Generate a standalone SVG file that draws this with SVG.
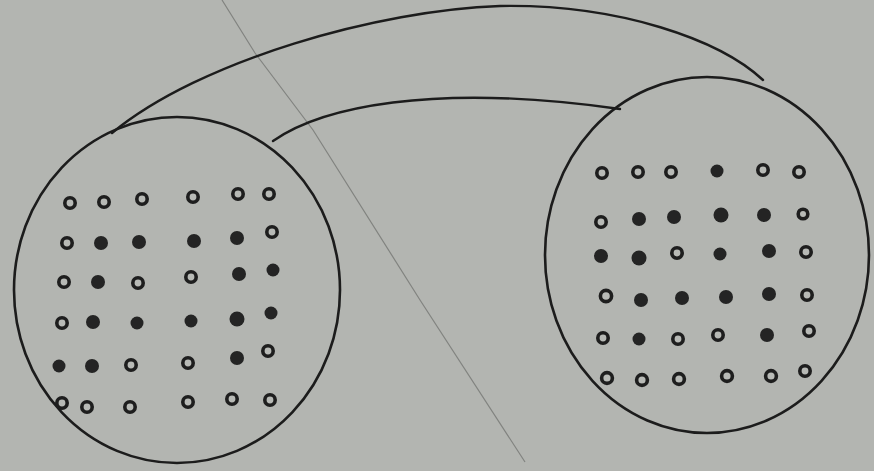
<svg xmlns="http://www.w3.org/2000/svg" width="874" height="471" viewBox="0 0 874 471">
<style>
.bg{fill:#b3b5b1}
.ring{fill:none;stroke:#1c1c1c;stroke-width:2.6}
.tube{fill:none;stroke:#1c1c1c;stroke-width:2.4;stroke-linecap:round}
.fold{fill:none;stroke:#6c6e6b;stroke-width:1.2;opacity:0.7}
.h{fill:#b8bab6;stroke:#1e1e1e;stroke-width:3.6}
.f{fill:#242424}
</style>
<rect class="bg" x="0" y="0" width="874" height="471"/>
<path class="fold" d="M222,0 L255,53 L313,130 L420,300 L525,462"/>
<g id="connectors">
<path class="tube" d="M112,133 C200,60 380,10 500,6 C620,4 720,40 763,80"/>
<path class="tube" d="M273,141 C320,108 430,82 620,109"/>
</g>
<g id="left-cell">
<ellipse class="ring" cx="177" cy="290" rx="163" ry="173"/>
<circle class="h" cx="70" cy="203" r="5.2"/><circle class="h" cx="104" cy="202" r="5.2"/><circle class="h" cx="142" cy="199" r="5.2"/><circle class="h" cx="193" cy="197" r="5.2"/><circle class="h" cx="238" cy="194" r="5.2"/><circle class="h" cx="269" cy="194" r="5.2"/>
<circle class="h" cx="67" cy="243" r="5.2"/><circle class="f" cx="101" cy="243" r="7"/><circle class="f" cx="139" cy="242" r="7"/><circle class="f" cx="194" cy="241" r="7"/><circle class="f" cx="237" cy="238" r="7"/><circle class="h" cx="272" cy="232" r="5.2"/>
<circle class="h" cx="64" cy="282" r="5.2"/><circle class="f" cx="98" cy="282" r="7"/><circle class="h" cx="138" cy="283" r="5.2"/><circle class="h" cx="191" cy="277" r="5.2"/><circle class="f" cx="239" cy="274" r="7"/><circle class="f" cx="273" cy="270" r="6.5"/>
<circle class="h" cx="62" cy="323" r="5.2"/><circle class="f" cx="93" cy="322" r="7"/><circle class="f" cx="137" cy="323" r="6.5"/><circle class="f" cx="191" cy="321" r="6.5"/><circle class="f" cx="237" cy="319" r="7.5"/><circle class="f" cx="271" cy="313" r="6.5"/>
<circle class="f" cx="59" cy="366" r="6.5"/><circle class="f" cx="92" cy="366" r="7"/><circle class="h" cx="131" cy="365" r="5.2"/><circle class="h" cx="188" cy="363" r="5.2"/><circle class="f" cx="237" cy="358" r="7"/><circle class="h" cx="268" cy="351" r="5.2"/>
<circle class="h" cx="62" cy="403" r="5.2"/><circle class="h" cx="87" cy="407" r="5.2"/><circle class="h" cx="130" cy="407" r="5.2"/><circle class="h" cx="188" cy="402" r="5.2"/><circle class="h" cx="232" cy="399" r="5.2"/><circle class="h" cx="270" cy="400" r="5.2"/>
</g>
<g id="right-cell">
<ellipse class="ring" cx="707" cy="255" rx="162" ry="178"/>
<circle class="h" cx="602" cy="173" r="5.2"/><circle class="h" cx="638" cy="172" r="5.2"/><circle class="h" cx="671" cy="172" r="5.2"/><circle class="f" cx="717" cy="171" r="6.5"/><circle class="h" cx="763" cy="170" r="5.2"/><circle class="h" cx="799" cy="172" r="5.2"/>
<circle class="h" cx="601" cy="222" r="5.2"/><circle class="f" cx="639" cy="219" r="7"/><circle class="f" cx="674" cy="217" r="7"/><circle class="f" cx="721" cy="215" r="7.5"/><circle class="f" cx="764" cy="215" r="7"/><circle class="h" cx="803" cy="214" r="4.8"/>
<circle class="f" cx="601" cy="256" r="7"/><circle class="f" cx="639" cy="258" r="7.5"/><circle class="h" cx="677" cy="253" r="5.2"/><circle class="f" cx="720" cy="254" r="6.5"/><circle class="f" cx="769" cy="251" r="7"/><circle class="h" cx="806" cy="252" r="5.2"/>
<circle class="h" cx="606" cy="296" r="5.6"/><circle class="f" cx="641" cy="300" r="7"/><circle class="f" cx="682" cy="298" r="7"/><circle class="f" cx="726" cy="297" r="7"/><circle class="f" cx="769" cy="294" r="7"/><circle class="h" cx="807" cy="295" r="5.2"/>
<circle class="h" cx="603" cy="338" r="5.2"/><circle class="f" cx="639" cy="339" r="6.5"/><circle class="h" cx="678" cy="339" r="5.2"/><circle class="h" cx="718" cy="335" r="5.2"/><circle class="f" cx="767" cy="335" r="7"/><circle class="h" cx="809" cy="331" r="5.2"/>
<circle class="h" cx="607" cy="378" r="5.4"/><circle class="h" cx="642" cy="380" r="5.4"/><circle class="h" cx="679" cy="379" r="5.4"/><circle class="h" cx="727" cy="376" r="5.4"/><circle class="h" cx="771" cy="376" r="5.4"/><circle class="h" cx="805" cy="371" r="5.2"/>
</g>
</svg>
